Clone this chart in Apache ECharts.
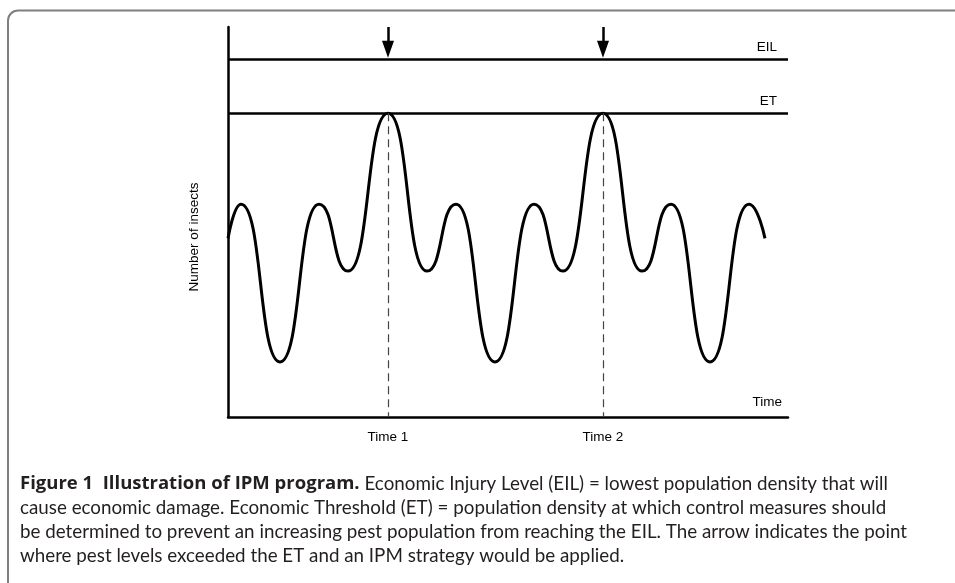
<!DOCTYPE html>
<html>
<head>
<meta charset="utf-8">
<script src="https://cdn.jsdelivr.net/npm/echarts@6/dist/echarts.min.js"></script>
<style>
  html, body { margin: 0; padding: 0; background: #fff; }
  #main { width: 955px; height: 583px; }
</style>
</head>
<body>
<div id="main"></div>
<script>
// population curve (x = time, y = number of insects)
const curveX = [0, 13, 52, 91, 120, 160, 199, 228, 267, 306, 335, 375, 414, 443, 482, 521, 537]
const curveY = [60, 71.5, 18.5, 71.5, 49, 102, 49, 71.5, 18.5, 71.5, 49, 102, 49, 71.5, 18.5, 71.5, 60]

// threshold levels
const levelNames = ['EIL', 'ET']
const levelValues = [120, 102]

// control times (where the curve touches ET)
const timeNames = ['Time 1', 'Time 2']
const timeValues = [160, 375]

const xMax = 560
const yMax = 131
const arrowTop = 131
const arrowEnd = 123.5

const caption = [
  '{b|Figure 1  Illustration of IPM program.} Economic Injury Level (EIL) = lowest population density that will',
  'cause economic damage. Economic Threshold (ET) = population density at which control measures should',
  'be determined to prevent an increasing pest population from reaching the EIL. The arrow indicates the point',
  'where pest levels exceeded the ET and an IPM strategy would be applied.'
]

const chart = echarts.init(document.getElementById('main'))

const font = 'Liberation Sans, Arial, sans-serif'

const option = {
  animation: false,
  grid: { left: 228, right: 167, top: 27, bottom: 166 },
  xAxis: {
    type: 'value',
    min: 0,
    max: xMax,
    axisLine: { show: true, lineStyle: { color: '#000', width: 2.5 } },
    axisTick: { show: false },
    splitLine: { show: false },
    axisLabel: {
      customValues: timeValues,
      formatter: v => timeNames[timeValues.indexOf(v)] || '',
      margin: 13,
      color: '#000',
      fontSize: 13.5,
      fontFamily: font
    }
  },
  yAxis: {
    type: 'value',
    min: 0,
    max: yMax,
    axisLine: { show: true, lineStyle: { color: '#000', width: 2.5 } },
    axisTick: { show: false },
    axisLabel: { show: false },
    splitLine: { show: false }
  },
  series: [
    {
      name: 'Insects',
      type: 'line',
      data: curveX.map((x, i) => [x, curveY[i]]),
      smooth: 0.55,
      smoothMonotone: 'x',
      symbol: 'none',
      lineStyle: { color: '#000', width: 3 }
    },
    {
      name: 'Levels',
      type: 'line',
      data: [],
      markLine: {
        silent: true,
        symbol: 'none',
        lineStyle: { color: '#000', width: 2.5, type: 'solid' },
        label: {
          position: 'insideEndTop',
          distance: [11, 5],
          color: '#000',
          fontSize: 13.5,
          fontFamily: font,
          formatter: p => p.name
        },
        data: levelNames.map((n, i) => ({ name: n, yAxis: levelValues[i] }))
      }
    },
    {
      name: 'Times',
      type: 'line',
      data: [],
      markLine: {
        silent: true,
        symbol: 'none',
        label: { show: false },
        lineStyle: { color: '#444', width: 1.2, type: [8, 5] },
        data: timeValues.map(t => [{ coord: [t, levelValues[1]] }, { coord: [t, 0] }])
      }
    },
    {
      name: 'Arrows',
      type: 'line',
      data: [],
      clip: false,
      markLine: {
        silent: true,
        symbol: ['none', 'triangle'],
        symbolSize: [12, 17],
        label: { show: false },
        lineStyle: { color: '#000', width: 2.5, type: 'solid' },
        data: timeValues.map(t => [{ coord: [t, arrowTop] }, { coord: [t, arrowEnd] }])
      }
    }
  ],
  graphic: [
    {
      type: 'rect',
      shape: { x: 8, y: 10.5, width: 1000, height: 700, r: 10 },
      style: { fill: 'none', stroke: '#7f7f7f', lineWidth: 2 }
    },
    {
      type: 'text',
      x: 194,
      y: 237,
      rotation: Math.PI / 2,
      style: {
        text: 'Number of insects',
        fill: '#000',
        font: '13.5px ' + font,
        align: 'center',
        verticalAlign: 'middle'
      }
    },
    {
      type: 'text',
      x: 782,
      y: 402,
      style: {
        text: 'Time',
        fill: '#000',
        font: '13.5px ' + font,
        align: 'right',
        verticalAlign: 'middle'
      }
    },
    {
      type: 'text',
      x: 20,
      y: 472,
      style: {
        text: caption.join('\n'),
        fill: '#231f20',
        fontSize: 18.8,
        fontFamily: 'Lato, sans-serif',
        lineHeight: 24,
        rich: {
          b: { fontSize: 18.5, fontWeight: 'bold', fontFamily: 'Open Sans, sans-serif', lineHeight: 24, fill: '#231f20' }
        }
      }
    }
  ]
}

chart.setOption(option)
</script>
</body>
</html>
